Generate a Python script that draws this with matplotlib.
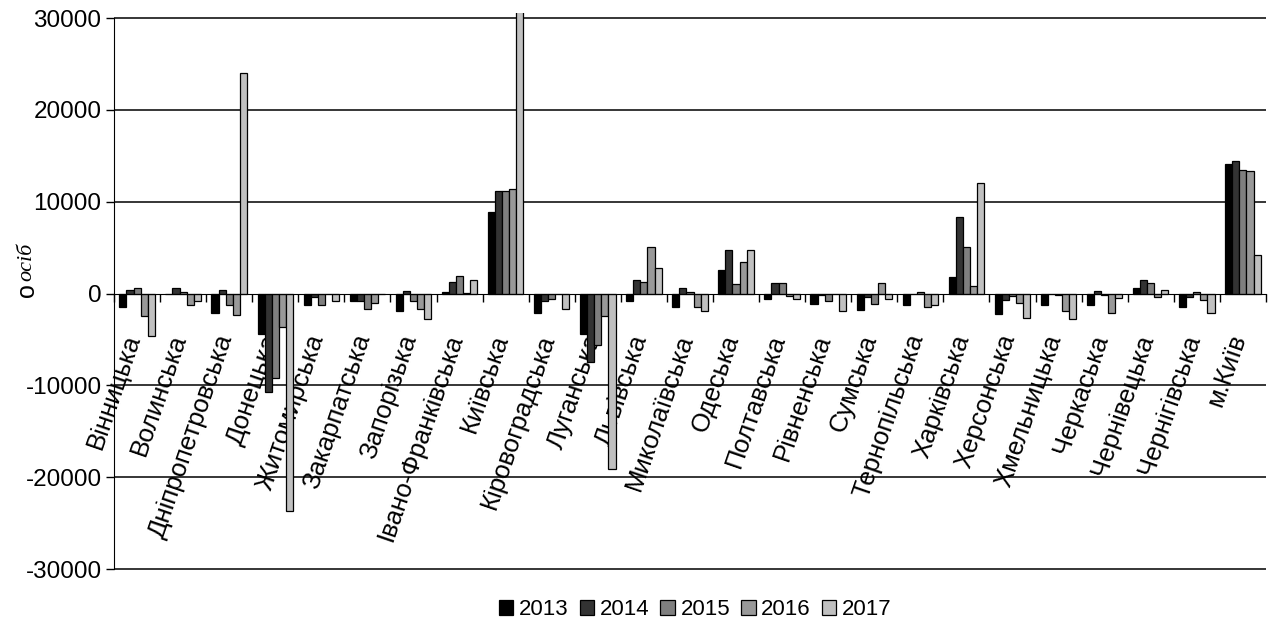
import numpy as np
import matplotlib
matplotlib.use("Agg")
from matplotlib import pyplot as plt

plt.rcParams["font.family"] = ["Liberation Sans", "DejaVu Sans"]

regions = [
    "Вінницька", "Волинська", "Дніпропетровська", "Донецька", "Житомирська",
    "Закарпатська", "Запорізька", "Івано-Франківська", "Київська",
    "Кіровоградська", "Луганська", "Львівська", "Миколаївська", "Одеська",
    "Полтавська", "Рівненська", "Сумська", "Тернопільська", "Харківська",
    "Херсонська", "Хмельницька", "Черкаська", "Чернівецька", "Чернігівська",
    "м.Київ",
]
years = ["2013", "2014", "2015", "2016", "2017"]

v2013 = [-1500, 0, -2100, -4400, -1300, -800, -1900, 200, 8900, -2100,
         -4400, -800, -1500, 2600, -650, -1100, -1750, -1300, 1750, -2200,
         -1300, -1300, 650, -1450, 14100]
v2014 = [400, 600, 400, -10700, -400, -800, 300, 1300, 11200, -800,
         -7500, 1500, 650, 4700, 1100, -150, -350, -100, 8300, -700,
         -100, 250, 1500, -400, 14400]
v2015 = [600, 200, -1200, -9200, -1300, -1700, -800, 1900, 11200, -600,
         -5600, 1300, 200, 1000, 1100, -850, -1100, 200, 5100, -300,
         -150, -150, 1100, 200, 13500]
v2016 = [-2500, -1200, -2300, -3600, 0, -1000, -1700, 100, 11400, 0,
         -2500, 5100, -1450, 3400, -250, -100, 1100, -1450, 800, -1000,
         -1900, -2100, -400, -700, 13300]
v2017 = [-4600, -800, 24000, -23700, -800, 0, -2800, 1500, 35000, -1700,
         -19100, 2800, -1900, 4700, -650, -1900, -650, -1200, 12000, -2700,
         -2800, -500, 400, -2100, 4200]

series = [v2013, v2014, v2015, v2016, v2017]
colors = ["#000000", "#333333", "#7f7f7f", "#999999", "#c0c0c0"]
yticks = [-30000, -20000, -10000, 0, 10000, 20000, 30000]


def main():
    fig = plt.figure(figsize=(12.71, 6.32), dpi=100)
    ax = fig.add_axes([0.0897, 0.0975, 0.9063, 0.882])

    x = np.arange(len(regions))
    w = 1 / 6.5
    for i, (vals, col, yr) in enumerate(zip(series, colors, years)):
        ax.bar(x + (i - 2) * w, vals, w, color=col, edgecolor="black",
               linewidth=0.9, label=yr, zorder=3)

    ax.set_xlim(-0.5, len(regions) - 0.5)
    ax.set_ylim(-30150, 30550)

    for v in yticks:
        if v != 0:
            ax.axhline(v, color="black", lw=1.1, zorder=1)

    ax.set_yticks(yticks)
    ax.set_yticklabels([str(v) for v in yticks], fontsize=17.5)
    ax.tick_params(axis="y", direction="out", length=6, width=1, pad=3)

    for side in ["top", "right"]:
        ax.spines[side].set_visible(False)
    ax.spines["left"].set_bounds(-30000, 30000)
    ax.spines["bottom"].set_position(("data", 0))
    ax.spines["bottom"].set_zorder(4)

    # labels sit a little left of the group centre, like the original
    ax.set_xticks(x - 0.08)
    ax.set_xticklabels(regions, rotation=71, ha="right", va="center",
                       rotation_mode="anchor", fontsize=18.5)
    ax.set_xticks(np.arange(len(regions) + 1) - 0.5, minor=True)
    ax.tick_params(axis="x", which="major", length=0, pad=30)
    ax.tick_params(axis="x", which="minor", length=6, width=1, direction="out")
    for lab in ax.get_xticklabels():
        lab.set_zorder(5)

    fig.text(27 / 1271, 1 - 290 / 632, "о", rotation=90, ha="center",
             va="center", fontsize=18)
    fig.text(27 / 1271, 1 - 262 / 632, "осіб", rotation=90, ha="center",
             va="center", fontsize=16, family="Liberation Serif",
             style="italic")

    fig.legend(loc="center", bbox_to_anchor=(0.547, 0.035), ncol=5,
               frameon=False, fontsize=16, handlelength=0.65,
               handleheight=0.65, handletextpad=0.25, columnspacing=0.5)

    fig.savefig("out.png", dpi=100)


if __name__ == "__main__":
    main()
